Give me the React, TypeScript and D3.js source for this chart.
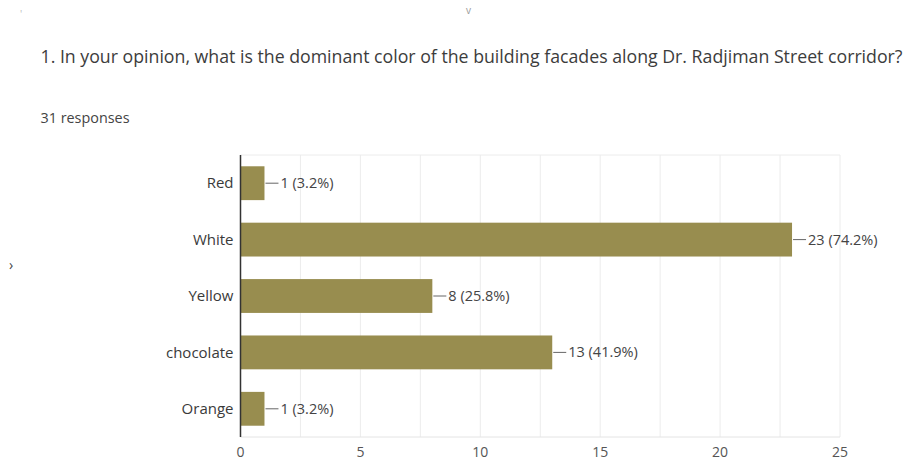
import React from "react";
import * as d3 from "d3";

const title =
  "1. In your opinion, what is the dominant color of the building facades along Dr. Radjiman Street corridor?";
const subtitle = "31 responses";
const categories = ["Red", "White", "Yellow", "chocolate", "Orange"];
const counts = [1, 23, 8, 13, 1];
const percents = ["3.2%", "74.2%", "25.8%", "41.9%", "3.2%"];
const xTicks = [0, 5, 10, 15, 20, 25];
const gridValues = [0, 2.5, 5, 7.5, 10, 12.5, 15, 17.5, 20, 22.5, 25];

const W = 912;
const H = 463;
const left = 240.5;
const right = 840;
const top = 155;
const bottom = 437;
const barColor = "#988d4f";
const font = "'Open Sans', 'Noto Sans', sans-serif";

export default function App() {
  const x = d3.scaleLinear().domain([0, 25]).range([left, right]);
  const y = d3
    .scaleBand<string>()
    .domain(categories)
    .range([top, bottom])
    .paddingInner(0.4)
    .paddingOuter(0.2);

  return (
    <svg
      width={W}
      height={H}
      style={{ position: "absolute", left: 0, top: 0, background: "#fff" }}
      fontFamily={font}
    >
      <rect width={W} height={H} fill="#fff" />
      {/* faint artifacts */}
      <text x={20} y={18} fontSize={10} fill="#bbb">'</text>
      <text x={466} y={14} fontSize={10} fill="#999">v</text>
      <text x={9} y={270} fontSize={14} fill="#444">›</text>

      <text
        x={40.5}
        y={62.5}
        fontSize={17.5}
        fill="#3c3c3c"
        textLength={862}
        lengthAdjust="spacingAndGlyphs"
      >
        {title}
      </text>
      <text
        x={40.5}
        y={122.5}
        fontSize={14}
        fill="#444"
        textLength={89}
        lengthAdjust="spacingAndGlyphs"
      >
        {subtitle}
      </text>

      {/* grid */}
      {gridValues.map((v) => (
        <line
          key={"g" + v}
          x1={x(v)}
          x2={x(v)}
          y1={top}
          y2={bottom}
          stroke="#ececec"
          strokeWidth={1}
        />
      ))}
      <line x1={left} x2={right} y1={top} y2={top} stroke="#ececec" />
      <line x1={left} x2={right} y1={bottom} y2={bottom} stroke="#e4e4e4" />

      {/* bars */}
      {categories.map((c, i) => {
        const y0 = y(c)!;
        const bw = y.bandwidth();
        const xe = x(counts[i]);
        return (
          <g key={c}>
            <rect
              x={x(0)}
              y={y0}
              width={xe - x(0)}
              height={bw}
              fill={barColor}
            />
            <line
              x1={xe + 1}
              x2={xe + 14}
              y1={y0 + bw / 2}
              y2={y0 + bw / 2}
              stroke="#666"
              strokeWidth={1}
            />
            <text
              x={xe + 16}
              y={y0 + bw / 2}
              dy="0.35em"
              fontSize={14.5}
              fill="#444"
            >
              {`${counts[i]} (${percents[i]})`}
            </text>
            <text
              x={left - 7}
              y={y0 + bw / 2}
              dy="0.35em"
              textAnchor="end"
              fontSize={15}
              fill="#3a3a3a"
            >
              {c}
            </text>
          </g>
        );
      })}

      {/* y axis line */}
      <line x1={left} x2={left} y1={top} y2={bottom} stroke="#333" strokeWidth={1.5} />

      {/* x tick labels */}
      {xTicks.map((t) => (
        <text
          key={"t" + t}
          x={x(t)}
          y={457}
          textAnchor="middle"
          fontSize={14}
          fill="#555"
        >
          {t}
        </text>
      ))}
    </svg>
  );
}
